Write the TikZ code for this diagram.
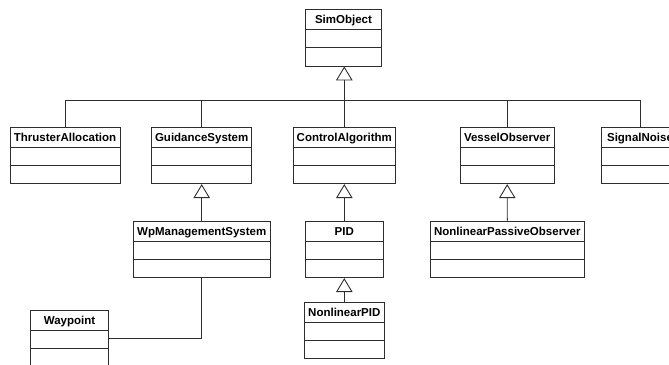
\documentclass[tikz,border=0pt]{standalone}
\usepackage{fontspec}
\setmainfont{Liberation Sans}
\usetikzlibrary{arrows.meta}
\definecolor{lc}{HTML}{2E2E2E}
\tikzset{
  clsbox/.style={draw=lc, line width=0.9pt, minimum height=56.5pt, inner sep=0pt, anchor=north},
  clstitle/.style={font=\fontsize{11.5}{13}\selectfont\bfseries, text=black, inner sep=0pt, text height=8.3pt, text depth=2.4pt},
  clsline/.style={draw=lc, line width=0.9pt},
  gen/.style={draw=lc, line width=0.9pt, -{Triangle[open, length=14pt, width=16.5pt, line width=0.9pt]}},
  assoc/.style={draw=lc, line width=0.9pt}
}
\newcommand\umlcls[5]{%
  \node[clsbox, minimum width=#4pt] (#1) at (#2pt,-#3pt) {};
  \node[clstitle] (#1-t) at ([yshift=-11.5pt]#1.north) {#5};
  \draw[clsline] ([yshift=-20.7pt]#1.north west) -- ([yshift=-20.7pt]#1.north east);
  \draw[clsline] ([yshift=-38.7pt]#1.north west) -- ([yshift=-38.7pt]#1.north east);
}
\begin{document}
\begin{tikzpicture}[x=1pt,y=1pt]
\useasboundingbox (0,0) rectangle (669,-364);
\clip (0,0) rectangle (669,-364);
\umlcls{sim}{343.5}{9}{76}{SimObject}
\umlcls{thr}{65}{126.7}{110}{ThrusterAllocation}
\umlcls{guid}{201.7}{126.7}{100}{GuidanceSystem}
\umlcls{ctrl}{344.3}{126.7}{102}{ControlAlgorithm}
\umlcls{ves}{507.2}{126.7}{94.3}{VesselObserver}
\umlcls{sig}{640}{126.7}{78}{SignalNoise}
\umlcls{wp}{201.7}{220.7}{136.7}{WpManagementSystem}
\umlcls{pid}{344.3}{220.7}{78.3}{PID}
\umlcls{npo}{507.3}{220.7}{153.3}{NonlinearPassiveObserver}
\umlcls{npid}{344.3}{301.7}{80}{NonlinearPID}
\umlcls{way}{69.5}{310}{77.6}{Waypoint}
\coordinate (bus) at (0,-100);
% generalization tree to SimObject
\draw[gen] (ctrl.north) -- (ctrl.north |- sim.south);
\draw[assoc] (thr.north) -- (thr.north |- bus) -- (sig.north |- bus) -- (sig.north);
\draw[assoc] (guid.north) -- (guid.north |- bus);
\draw[assoc] (ves.north) -- (ves.north |- bus);
% second level generalizations
\draw[gen] (wp.north) -- (guid.south);
\draw[gen] (pid.north) -- (ctrl.south);
\draw[gen] (npo.north) -- (ves.south);
\draw[gen] (npid.north) -- (pid.south);
% association
\draw[assoc] (wp.south) |- (way.east);
\end{tikzpicture}
\end{document}
